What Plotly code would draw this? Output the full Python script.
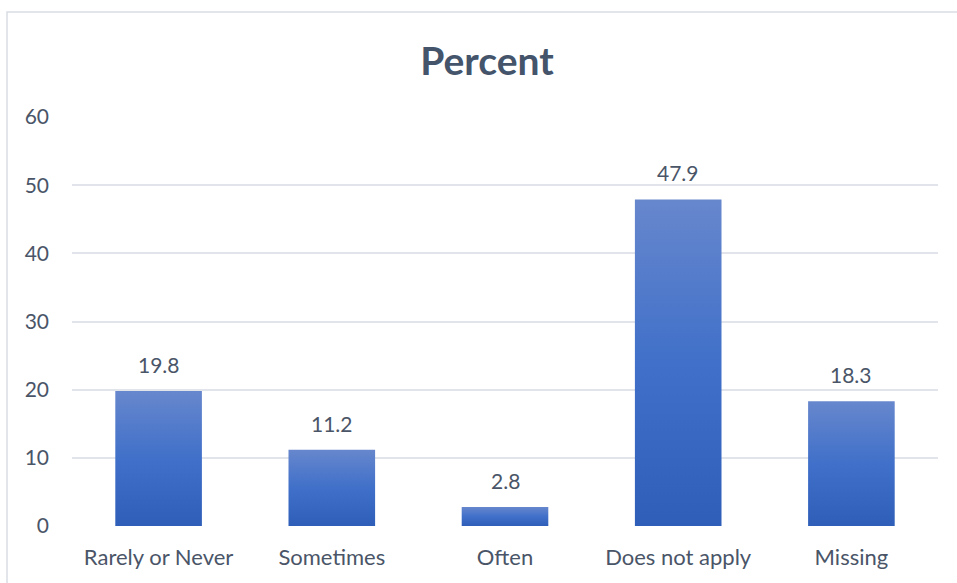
import plotly.graph_objects as go

# Survey response shares
categories = ["Rarely or Never", "Sometimes", "Often", "Does not apply", "Missing"]
percent = [19.8, 11.2, 2.8, 47.9, 18.3]
y_ticks = [0, 10, 20, 30, 40, 50, 60]

TEXT = "#4A5568"
TITLE = "#44546A"
GRID = "#E1E4EA"
FONT = "Lato"
BAR_WIDTH = 0.5

fig = go.Figure()

# Each bar is a filled polygon so it can carry a vertical gradient (light top, dark bottom)
for i, (cat, val) in enumerate(zip(categories, percent)):
    x0, x1 = i - BAR_WIDTH / 2, i + BAR_WIDTH / 2
    fig.add_trace(go.Scatter(
        x=[x0, x1, x1, x0, x0],
        y=[0, 0, val, val, 0],
        mode="lines",
        line=dict(width=0),
        fill="toself",
        fillgradient=dict(
            type="vertical",
            colorscale=[[0, "#2E5EB8"], [0.5, "#4070C9"], [1, "#6787CD"]],
        ),
        name=cat,
        hoverinfo="skip",
        showlegend=False,
    ))

# Value labels above the bars
for i, val in enumerate(percent):
    fig.add_annotation(
        x=i, y=val,
        text=f"{val:.1f}",
        showarrow=False,
        yanchor="bottom",
        yshift=12,
        font=dict(family=FONT, size=21, color=TEXT),
    )

fig.update_layout(
    width=957,
    height=583,
    margin=dict(l=72, r=19, t=117, b=57),
    paper_bgcolor="white",
    plot_bgcolor="white",
    title=dict(
        text="<b>Percent</b>",
        x=487 / 957,
        xanchor="center",
        y=1 - 61 / 583,
        yanchor="middle",
        font=dict(family=FONT, size=39, color=TITLE),
    ),
    xaxis=dict(
        range=[-0.5, len(categories) - 0.5],
        tickvals=list(range(len(categories))),
        ticktext=categories,
        tickfont=dict(family=FONT, size=22, color=TEXT),
        showgrid=False,
        zeroline=False,
        showline=False,
        ticks="",
        ticklabelstandoff=16,
    ),
    yaxis=dict(
        range=[0, 60],
        tickvals=y_ticks,
        tickfont=dict(family=FONT, size=21, color=TEXT),
        showgrid=True,
        gridcolor=GRID,
        gridwidth=1.5,
        zeroline=False,
        showline=False,
        ticks="",
        ticklabelstandoff=22,
    ),
    shapes=[
        dict(
            type="rect",
            xref="paper", yref="paper",
            x0=(7 - 72) / 866, x1=(975 - 72) / 866,
            y0=-(80 / 409), y1=1 + (105 / 409),
            line=dict(color="#D9DDE3", width=1.5),
            fillcolor="rgba(0,0,0,0)",
            layer="below",
        )
    ],
)

fig.write_html("out.html")
